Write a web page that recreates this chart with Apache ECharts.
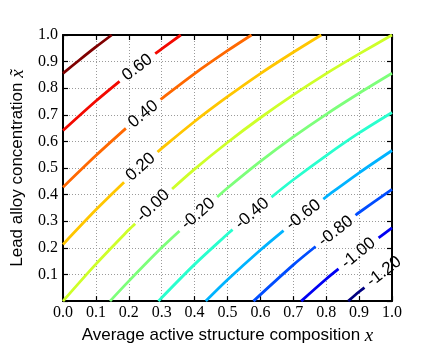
<!DOCTYPE html>
<html>
<head>
<meta charset="utf-8">
<script src="https://cdn.jsdelivr.net/npm/echarts@6/dist/echarts.min.js"></script>
<style>
  html, body { margin: 0; padding: 0; background: #fff; }
  #chart { width: 436px; height: 350px; }
</style>
</head>
<body>
<div id="chart"></div>
<script>
/* contour plot: lead alloy concentration vs. average active structure composition */

// contour levels, their inline labels and jet colours (low -> high)
const levels      = [-1.2, -1.0, -0.8, -0.6, -0.4, -0.2, 0.0, 0.2, 0.4, 0.6, 0.8];
const levelLabels = ['-1.20', '-1.00', '-0.80', '-0.60', '-0.40', '-0.20', '-0.00', '0.20', '0.40', '0.60', ''];
const lineColors  = ['#000080', '#0000f3', '#004dff', '#00b3ff', '#29ffce', '#7dff7a',
                     '#ceff29', '#ffc600', '#ff6800', '#f30900', '#800000'];

// contour polylines as [x, x~] pairs
const cM120 = [[0.867, 0], [0.9, 0.035], [1, 0.13]];
const cM100 = [[0.724, 0], [0.8, 0.083], [0.9, 0.184], [1, 0.275]];
const cM080 = [[0.579, 0], [0.7, 0.136], [0.8, 0.238], [0.9, 0.333], [1, 0.42]];
const cM060 = [[0.434, 0], [0.5, 0.08], [0.6, 0.192], [0.7, 0.296], [0.8, 0.392], [0.9, 0.482], [1, 0.566]];
const cM040 = [[0.29, 0], [0.4, 0.138], [0.5, 0.252], [0.6, 0.358], [0.7, 0.456], [0.8, 0.547], [0.9, 0.632], [1, 0.709]];
const cM020 = [[0.143, 0], [0.2, 0.075], [0.3, 0.201], [0.4, 0.317], [0.5, 0.425], [0.6, 0.525], [0.7, 0.617], [0.8, 0.702], [0.9, 0.781], [1, 0.856]];
const cP000 = [[0, 0], [0.1, 0.139], [0.2, 0.268], [0.3, 0.387], [0.4, 0.496], [0.5, 0.596], [0.6, 0.689], [0.7, 0.775], [0.8, 0.855], [0.9, 0.929], [1, 1]];
const cP020 = [[0, 0.213], [0.1, 0.343], [0.2, 0.464], [0.3, 0.574], [0.4, 0.675], [0.5, 0.768], [0.6, 0.855], [0.7, 0.935], [0.785, 1]];
const cP040 = [[0, 0.428], [0.1, 0.547], [0.2, 0.659], [0.3, 0.761], [0.4, 0.855], [0.5, 0.941], [0.573, 1]];
const cP060 = [[0, 0.641], [0.1, 0.752], [0.2, 0.855], [0.3, 0.948], [0.358, 1]];
const cP080 = [[0, 0.856], [0.05, 0.906], [0.1, 0.955], [0.148, 1]];
const contours = [cM120, cM100, cM080, cM060, cM040, cM020, cP000, cP020, cP040, cP060, cP080];

// centres of the inline labels
const labelX = [0.976, 0.898, 0.829, 0.731, 0.575, 0.411, 0.274, 0.236, 0.244, 0.226, null];
const labelY = [0.111, 0.180, 0.263, 0.324, 0.329, 0.328, 0.358, 0.504, 0.703, 0.878, null];

const SANS = '"Liberation Sans", Arial, sans-serif';
const SERIF = '"Liberation Serif", "Times New Roman", serif';
const LABEL_SIZE = 17;

const tickLabel = { fontFamily: SERIF, fontSize: 16, color: '#000' };
const frame = { show: true, onZero: false, lineStyle: { color: '#000', width: 2 } };
const ticks = { show: true, inside: true, length: 5, lineStyle: { color: '#000', width: 1.2 } };
const dots = { show: true, lineStyle: { color: '#9a9a9a', width: 1, type: [1, 2] } };
const mathRich = { m: { fontFamily: SERIF, fontStyle: 'italic', fontSize: 19, color: '#000' } };

const chart = echarts.init(document.getElementById('chart'), null, { renderer: 'canvas' });

chart.setOption({
  animation: false,
  backgroundColor: '#fff',
  grid: { left: 52, top: 35, width: 340, height: 272 },
  xAxis: [{
    type: 'value', min: 0, max: 1, interval: 0.1, position: 'bottom',
    axisLine: frame, axisTick: ticks, splitLine: dots,
    axisLabel: Object.assign({ margin: 4, formatter: v => v.toFixed(1) }, tickLabel),
    name: 'Average active structure composition {m|x}',
    nameLocation: 'middle', nameGap: 14,
    nameTextStyle: { fontFamily: SANS, fontSize: 17, color: '#000', verticalAlign: 'top', rich: mathRich }
  }, {
    type: 'value', min: 0, max: 1, interval: 0.1, position: 'top',
    axisLine: frame, axisTick: ticks, splitLine: { show: false }, axisLabel: { show: false }
  }],
  yAxis: [{
    type: 'value', min: 0, max: 1, interval: 0.1, position: 'left',
    axisLine: frame, axisTick: ticks, splitLine: dots,
    axisLabel: Object.assign({ margin: 5, formatter: v => (v === 0 ? '' : v.toFixed(1)) }, tickLabel),
    name: 'Lead alloy concentration {m|x\u0303}',
    nameLocation: 'middle', nameGap: 36,
    nameTextStyle: { fontFamily: SANS, fontSize: 17, color: '#000', rich: mathRich }
  }, {
    type: 'value', min: 0, max: 1, interval: 0.1, position: 'right',
    axisLine: frame, axisTick: ticks, splitLine: { show: false }, axisLabel: { show: false }
  }],
  series: []
});

/* ---------- break each contour where its label sits (inline labels) ---------- */
const toPx = p => chart.convertToPixel({ gridIndex: 0 }, p);
const toData = p => chart.convertFromPixel({ gridIndex: 0 }, p);
const ctx = document.createElement('canvas').getContext('2d');
ctx.font = LABEL_SIZE + 'px ' + SANS;

function splitAround(px, c, r) {
  const pieces = [];
  let cur = [];
  let isIn = Math.hypot(px[0][0] - c[0], px[0][1] - c[1]) < r;
  if (!isIn) cur.push(px[0]);
  for (let k = 0; k < px.length - 1; k++) {
    const a = px[k], b = px[k + 1];
    const dx = b[0] - a[0], dy = b[1] - a[1];
    const fx = a[0] - c[0], fy = a[1] - c[1];
    const A = dx * dx + dy * dy, B = 2 * (fx * dx + fy * dy), C = fx * fx + fy * fy - r * r;
    const disc = B * B - 4 * A * C;
    if (disc > 0) {
      const s = Math.sqrt(disc);
      [(-B - s) / (2 * A), (-B + s) / (2 * A)].forEach(t => {
        if (t <= 0 || t >= 1) return;
        cur.push([a[0] + t * dx, a[1] + t * dy]);
        if (!isIn) { pieces.push(cur); cur = []; }
        isIn = !isIn;
      });
    }
    if (!isIn) cur.push(b);
  }
  if (cur.length > 1) pieces.push(cur);
  return pieces;
}

const series = [];
const labelData = [];
contours.forEach((pts, i) => {
  const px = pts.map(toPx);
  let pieces = [px];
  if (labelX[i] !== null) {
    const c = toPx([labelX[i], labelY[i]]);
    const r = ctx.measureText(levelLabels[i]).width / 2 + 6;
    pieces = splitAround(px, c, r);
    // label follows the local direction of the line
    let k = pts.findIndex(p => p[0] > labelX[i]);
    if (k < 1) k = pts.length - 1;
    const a = px[k - 1], b = px[k];
    const ang = Math.atan2(a[1] - b[1], b[0] - a[0]) * 180 / Math.PI;
    labelData.push({ value: [labelX[i], labelY[i]], name: levelLabels[i], label: { rotate: ang } });
  }
  pieces.forEach(pc => series.push({
    type: 'line', data: pc.map(toData), showSymbol: false, smooth: 0.3, silent: true,
    lineStyle: { color: lineColors[i], width: 2.8 }, z: 3
  }));
});

series.push({
  type: 'scatter', data: labelData, symbolSize: 0, silent: true, z: 5,
  itemStyle: { opacity: 0 },
  label: {
    show: true, position: 'inside', formatter: '{b}', fontFamily: SANS, fontSize: LABEL_SIZE,
    color: '#000', opacity: 1, textBorderWidth: 0
  }
});

chart.setOption({ series });
</script>
</body>
</html>
